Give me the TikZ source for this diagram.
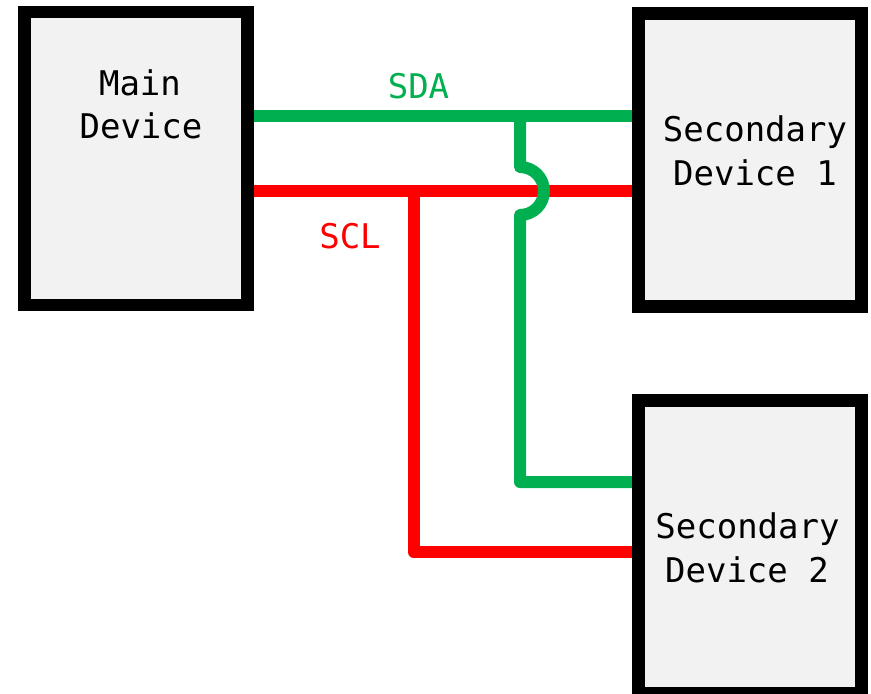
\documentclass[tikz,border=0pt]{standalone}
\usepackage{fontspec}
\newfontfamily\monofnt{DejaVu Sans Mono}
\definecolor{wiregreen}{HTML}{00B050}
\definecolor{wirered}{HTML}{FF0000}
\definecolor{boxfill}{HTML}{F2F2F2}
\tikzset{
  device/.style={draw=black, line width=12.5pt, fill=boxfill, rectangle, inner sep=0pt,
    minimum width=223pt, minimum height=293pt},
  devtext/.style={anchor=base, inner sep=0pt, font=\monofnt\fontsize{34}{40}\selectfont},
  wire/.style={line width=12pt, line join=round, line cap=round},
  sda/.style={wire, draw=wiregreen},
  scl/.style={wire, draw=wirered},
  wirelabel/.style={anchor=base, inner sep=0pt, font=\monofnt\fontsize{34}{40}\selectfont}
}
\begin{document}
\begin{tikzpicture}[x=1pt,y=-1pt]
\useasboundingbox[fill=white] (0,0) rectangle (871,694);
% junction coordinates
\coordinate (sdaTop) at (520,116);
\coordinate (hopA) at (520,167);
\coordinate (sdaBot) at (520,482);
\coordinate (sclTop) at (413.5,191);
\coordinate (sclBot) at (413.5,552);
% devices
\node[device] (main) at (136,158.25) {};
\node[device] (sec1) at (749.75,160) {};
\node[device] (sec2) at (749.75,547) {};
% wires
\draw[sda] (main.east |- sdaTop) -- (sec1.west |- sdaTop);
\draw[scl] (main.east |- sclTop) -- (sec1.west |- sclTop);
\draw[scl] (sclTop) -- (sclBot) -- (sec2.west |- sclBot);
\draw[sda] (sdaTop) -- (hopA) arc[start angle=-90, end angle=90, radius=24] -- (sdaBot) -- (sec2.west |- sdaBot);
% redraw device borders over wire ends
\node[device] at (main) {};
\node[device] at (sec1) {};
\node[device] at (sec2) {};
% texts
\node[devtext] (mainA) at (140,95) {Main};
\node[devtext] (mainB) at (141,138) {Device};
\node[devtext] (s1A) at (755,141) {Secondary};
\node[devtext] (s1B) at (755,185) {Device 1};
\node[devtext] (s2A) at (747.5,538) {Secondary};
\node[devtext] (s2B) at (747,582) {Device 2};
\node[wirelabel, text=wiregreen] (sdaLbl) at (418.5,98) {SDA};
\node[wirelabel, text=wirered] (sclLbl) at (350,248) {SCL};
\end{tikzpicture}
\end{document}
